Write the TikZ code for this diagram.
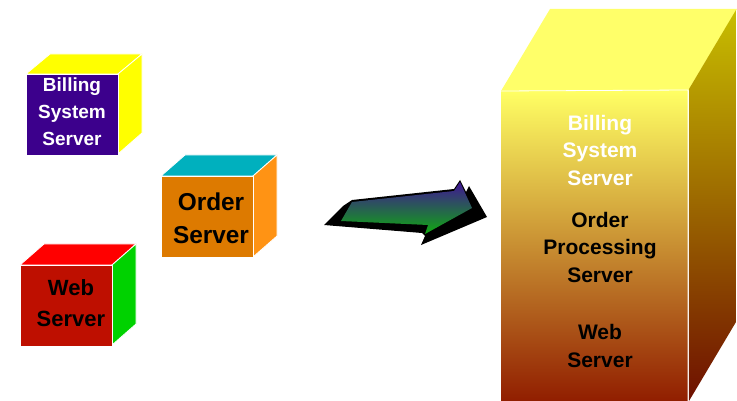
\documentclass[tikz,border=0pt]{standalone}
\usepackage{fontspec}
\setmainfont{Liberation Sans}
\usepackage{xcolor}
\definecolor{svpurple}{RGB}{60,0,140}
\definecolor{svyellow}{RGB}{255,255,0}
\definecolor{svorange}{RGB}{221,122,0}
\definecolor{svlightorange}{RGB}{255,147,20}
\definecolor{svteal}{RGB}{0,176,190}
\definecolor{svred}{RGB}{190,15,0}
\definecolor{svbrightred}{RGB}{255,0,0}
\definecolor{svgreen}{RGB}{0,210,0}
\definecolor{bigtop}{RGB}{255,255,105}
\definecolor{bigfronttop}{RGB}{255,255,100}
\definecolor{bigfrontbot}{RGB}{145,30,0}
\definecolor{bigsidetop}{RGB}{200,190,0}
\definecolor{bigsidebot}{RGB}{110,15,0}
\definecolor{arrowtop}{RGB}{65,20,150}
\definecolor{arrowbot}{RGB}{15,170,15}
\tikzstyle{face} = [draw=white, line width=0.8pt, line join=round]
\tikzstyle{smalllabel} = [align=center, font=\bfseries\fontsize{19}{27}\selectfont, inner sep=0pt]
\tikzstyle{biglabel} = [align=center, font=\bfseries\fontsize{21}{27.5}\selectfont, inner sep=0pt]
\begin{document}
\begin{tikzpicture}[x=1pt, y=-1pt]
\useasboundingbox (0,0) rectangle (737,401);

% Billing cube
\filldraw[face, fill=svyellow] (26,74) -- (50,54) -- (142,54) -- (118,74) -- cycle;
\filldraw[face, fill=svyellow] (118,74) -- (142,54) -- (142,133) -- (118,154) -- cycle;
\filldraw[face, fill=svpurple] (26,74) rectangle (118,155);
\node[smalllabel, text=white] (billing) at (72,112) {Billing\\System\\Server};

% Order cube
\filldraw[face, fill=svteal] (161,176) -- (185,155) -- (277,155) -- (253,176) -- cycle;
\filldraw[face, fill=svlightorange] (253,176) -- (277,155) -- (277,236) -- (253,257) -- cycle;
\filldraw[face, fill=svorange] (161,176) rectangle (253,257);
\node[align=center, inner sep=0pt, font=\bfseries\fontsize{24.4}{33}\selectfont] (order) at (211,218) {Order\\Server};

% Web cube
\filldraw[face, fill=svbrightred] (20,265) -- (44,244) -- (136,244) -- (112,265) -- cycle;
\filldraw[face, fill=svgreen] (112,265) -- (136,244) -- (136,324) -- (112,345) -- cycle;
\filldraw[face, fill=svred] (20,265) rectangle (112,346);
\node[align=center, inner sep=0pt, font=\bfseries\fontsize{22}{31}\selectfont] (web) at (71,303) {Web\\Server};

% Arrow
\fill[black, line join=round] (324,225) -- (343,206) -- (352,200) -- (454,189) -- (460,180) -- (466,192) -- (469,186)
  -- (487,217) -- (421,245) -- (425,236) -- (422,233) -- cycle;
\shade[top color=arrowtop, bottom color=arrowbot]
  (341,221) -- (352,202) -- (454,191) -- (460,182) -- (472,208) -- (425,234) -- (428,225) -- cycle;

% Combined server
\fill[bigtop] (501,91) -- (550,9) -- (737,9) -- (688,91) -- cycle;
\shade[top color=bigsidetop, bottom color=bigsidebot] (689,89) -- (736,10) -- (736,322) -- (689,401) -- cycle;
\shade[top color=bigfronttop, bottom color=bigfrontbot] (501,91) rectangle (688,401);
\draw[white, line width=0.8pt] (501,91) -- (688,90) -- (688,401);
\node[biglabel, text=white] (bigbilling) at (600,150) {Billing\\System\\Server};
\node[biglabel] (bigorder) at (600,247) {Order\\Processing\\Server};
\node[biglabel] (bigweb) at (600,346) {Web\\Server};
\end{tikzpicture}
\end{document}
